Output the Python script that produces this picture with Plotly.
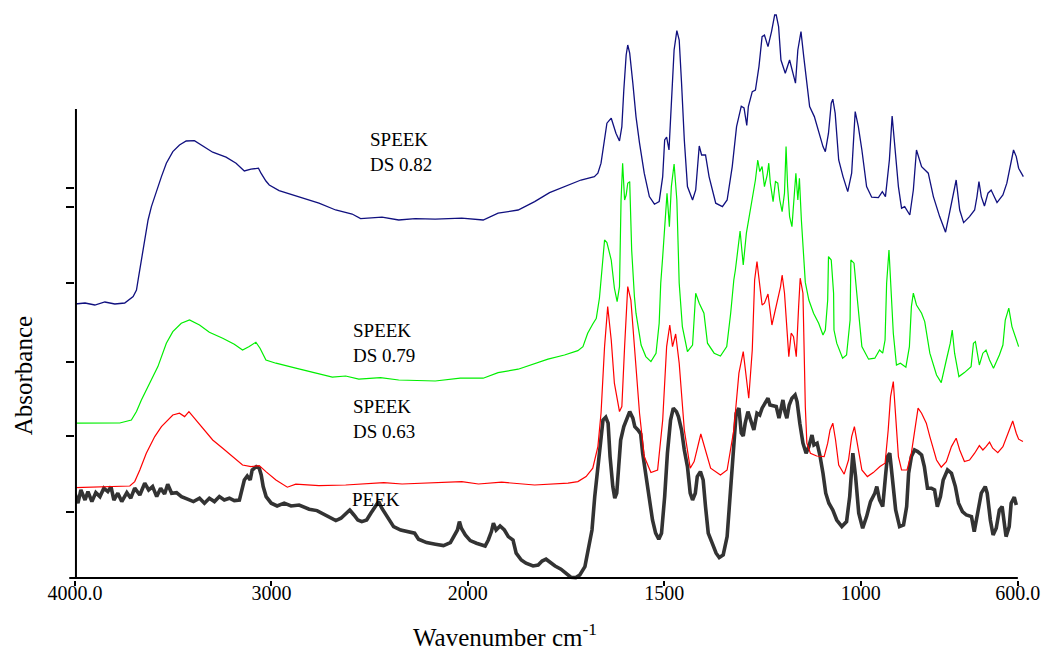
import plotly.graph_objects as go

# ---------------- data (wavenumber cm-1, absorbance a.u.) ----------------
peek = [(4000,0.424),(3985,0.374),(3970,0.44),(3949,0.39),(3934,0.432),(3914,0.382),(3894,0.427),(3873,0.407),
(3853,0.449),(3833,0.432),(3817,0.457),(3802,0.39),(3782,0.424),(3762,0.382),(3736,0.427),(3716,0.399),(3696,0.449),
(3670,0.415),(3645,0.474),(3625,0.44),(3605,0.457),(3584,0.407),(3564,0.449),(3544,0.42),(3528,0.469),(3508,0.424),
(3483,0.427),(3458,0.407),(3427,0.394),(3397,0.382),(3366,0.399),(3341,0.374),(3316,0.399),(3290,0.382),(3265,0.407),
(3240,0.39),(3214,0.399),(3189,0.387),(3163,0.39),(3153,0.432),(3138,0.49),(3123,0.51),(3108,0.49),(3098,0.54),
(3077,0.557),(3062,0.549),(3052,0.515),(3042,0.457),(3027,0.407),(3001,0.374),(2971,0.36),(2935,0.374),(2900,0.36),
(2859,0.365),(2834,0.354),(2808,0.344),(2768,0.337),(2727,0.315),(2697,0.299),(2672,0.287),(2646,0.299),(2621,0.324),
(2601,0.34),(2580,0.315),(2560,0.29),(2540,0.282),(2515,0.29),(2494,0.324),(2474,0.357),(2454,0.382),(2438,0.349),
(2423,0.324),(2403,0.29),(2378,0.257),(2342,0.24),(2302,0.232),(2271,0.224),(2251,0.194),(2210,0.177),(2165,0.169),
(2124,0.162),(2089,0.177),(2073,0.207),(2053,0.24),(2043,0.282),(2033,0.249),(2013,0.215),(1994,0.187),(1978,0.174),
(1966,0.165),(1956,0.16),(1948,0.19),(1940,0.232),(1935,0.274),(1928,0.24),(1918,0.26),(1907,0.24),(1897,0.207),
(1885,0.19),(1877,0.124),(1864,0.09),(1852,0.074),(1834,0.06),(1821,0.065),(1811,0.085),(1801,0.094),(1791,0.077),
(1778,0.06),(1763,0.044),(1750,0.024),(1738,0.004),(1725,0.002),(1715,0.015),(1702,0.057),(1695,0.124),(1684,0.24),
(1677,0.407),(1669,0.557),(1662,0.69),(1656,0.79),(1649,0.804),(1643,0.774),(1638,0.607),(1631,0.457),(1626,0.399),
(1621,0.424),(1616,0.557),(1611,0.69),(1603,0.757),(1596,0.79),(1588,0.832),(1580,0.799),(1575,0.757),(1567,0.74),
(1560,0.72),(1555,0.624),(1547,0.507),(1540,0.407),(1530,0.29),(1522,0.224),(1514,0.194),(1507,0.224),(1499,0.407),
(1492,0.624),(1484,0.79),(1477,0.849),(1469,0.832),(1464,0.807),(1456,0.74),(1449,0.64),(1441,0.557),(1434,0.424),
(1428,0.39),(1421,0.424),(1416,0.507),(1408,0.532),(1401,0.49),(1395,0.357),(1388,0.224),(1378,0.174),(1368,0.124),
(1360,0.102),(1350,0.115),(1340,0.207),(1332,0.407),(1325,0.624),(1317,0.824),(1310,0.849),(1304,0.724),(1299,0.71),
(1294,0.774),(1287,0.832),(1279,0.774),(1272,0.74),(1264,0.824),(1257,0.815),(1251,0.849),(1243,0.874),(1236,0.899),
(1231,0.865),(1223,0.862),(1215,0.857),(1208,0.799),(1203,0.84),(1198,0.89),(1193,0.832),(1188,0.799),(1182,0.865),
(1175,0.899),(1167,0.915),(1162,0.882),(1155,0.774),(1147,0.674),(1139,0.624),(1132,0.657),(1124,0.715),(1119,0.665),
(1111,0.674),(1104,0.615),(1096,0.524),(1089,0.424),(1081,0.374),(1071,0.34),(1061,0.29),(1048,0.257),(1036,0.282),
(1028,0.407),(1020,0.624),(1013,0.507),(1005,0.324),(995,0.249),(985,0.307),(975,0.382),(964,0.424),(959,0.457),
(952,0.39),(944,0.357),(937,0.507),(932,0.607),(926,0.624),(919,0.49),(911,0.34),(901,0.257),(891,0.265),(883,0.357),
(878,0.524),(871,0.607),(863,0.64),(855,0.632),(845,0.615),(838,0.557),(830,0.449),(820,0.449),(812,0.44),(805,0.357),
(797,0.407),(790,0.49),(779,0.54),(769,0.524),(759,0.457),(751,0.374),(741,0.332),(731,0.315),(718,0.307),(711,0.232),
(703,0.324),(693,0.424),(683,0.457),(678,0.424),(670,0.29),(663,0.215),(655,0.249),(647,0.34),(640,0.357),(635,0.29),
(630,0.207),(622,0.257),(617,0.374),(609,0.404),(604,0.365)]

speek_063 = [(4000,0.452),(3873,0.455),(3721,0.46),(3696,0.482),(3670,0.54),(3637,0.624),(3594,0.707),(3560,0.757),
(3527,0.79),(3502,0.815),(3468,0.824),(3442,0.807),(3420,0.832),(3392,0.799),(3349,0.749),(3299,0.69),(3248,0.649),
(3197,0.607),(3147,0.565),(3104,0.557),(3062,0.562),(3028,0.532),(2977,0.49),(2919,0.454),(2876,0.469),(2758,0.462),
(2622,0.465),(2428,0.477),(2335,0.47),(2031,0.482),(1973,0.47),(1914,0.479),(1830,0.465),(1745,0.474),(1720,0.482),
(1699,0.507),(1682,0.549),(1669,0.657),(1661,0.824),(1652,1.157),(1644,1.357),(1635,1.19),(1627,0.974),(1614,0.832),
(1608,0.857),(1601,1.157),(1593,1.457),(1585,1.39),(1576,1.157),(1563,0.824),(1551,0.607),(1534,0.527),(1517,0.54),
(1504,0.79),(1494,1.157),(1486,1.265),(1479,1.157),(1471,1.22),(1462,1.074),(1449,0.74),(1434,0.549),(1424,0.582),
(1407,0.72),(1395,0.64),(1382,0.549),(1357,0.515),(1340,0.54),(1323,0.74),(1310,1.024),(1299,1.132),(1291,1.007),
(1285,0.899),(1276,1.14),(1270,1.49),(1264,1.582),(1258,1.474),(1251,1.365),(1245,1.374),(1236,1.42),(1226,1.265),
(1213,1.374),(1204,1.457),(1200,1.515),(1194,1.425),(1183,1.107),(1177,1.224),(1171,1.207),(1164,1.107),(1158,1.357),
(1154,1.499),(1147,1.424),(1145,1.157),(1141,0.857),(1137,0.674),(1128,0.624),(1112,0.61),(1093,0.607),(1084,0.674),
(1078,0.74),(1071,0.774),(1064,0.69),(1056,0.565),(1042,0.519),(1031,0.59),(1023,0.707),(1016,0.757),(1008,0.657),
(997,0.54),(983,0.507),(968,0.527),(951,0.557),(938,0.574),(930,0.74),(924,0.907),(917,0.982),(911,0.824),(904,0.607),
(896,0.54),(882,0.54),(871,0.624),(862,0.757),(854,0.849),(845,0.824),(833,0.774),(824,0.707),(807,0.59),(795,0.554),
(782,0.582),(769,0.657),(757,0.699),(748,0.64),(736,0.582),(723,0.59),(710,0.624),(698,0.662),(689,0.64),(681,0.657),
(672,0.679),(664,0.649),(651,0.627),(638,0.657),(626,0.715),(613,0.785),(604,0.724),(598,0.694),(587,0.682)]

speek_079 = [(4000,0.774),(3873,0.775),(3772,0.775),(3713,0.79),(3687,0.832),(3662,0.89),(3620,0.974),(3578,1.057),
(3535,1.174),(3502,1.232),(3459,1.274),(3417,1.29),(3366,1.265),(3316,1.229),(3248,1.199),(3189,1.169),(3147,1.14),
(3113,1.157),(3079,1.179),(3058,1.149),(3028,1.09),(2977,1.074),(2876,1.049),(2775,1.024),(2690,1.004),(2622,1.01),
(2555,0.994),(2445,1.002),(2352,0.99),(2166,0.985),(2039,0.999),(1961,0.999),(1923,1.027),(1872,1.044),(1830,1.07),
(1796,1.094),(1754,1.115),(1720,1.137),(1707,1.157),(1695,1.224),(1682,1.27),(1673,1.299),(1665,1.40),(1652,1.69),
(1646,1.677),(1635,1.59),(1627,1.45),(1620,1.382),(1614,1.457),(1610,1.89),(1606,2.074),(1601,1.89),(1597,1.915),
(1593,1.974),(1588,1.982),(1583,1.64),(1576,1.407),(1572,1.324),(1559,1.165),(1547,1.107),(1534,1.082),(1521,1.124),
(1513,1.274),(1509,1.474),(1504,1.607),(1493,1.924),(1487,1.757),(1482,1.957),(1475,2.07),(1468,1.89),(1462,1.474),
(1454,1.257),(1441,1.132),(1428,1.165),(1420,1.424),(1411,1.374),(1399,1.324),(1390,1.174),(1373,1.124),(1357,1.11),
(1341,1.157),(1331,1.324),(1323,1.49),(1319,1.54),(1307,1.735),(1299,1.565),(1291,1.724),(1282,1.83),(1272,1.94),
(1268,1.99),(1262,2.09),(1257,2.032),(1251,2.057),(1245,1.957),(1238,2.015),(1234,2.074),(1230,1.974),(1223,1.882),
(1217,1.982),(1211,1.974),(1206,1.89),(1200,1.832),(1194,1.924),(1190,2.157),(1186,1.957),(1181,1.807),(1175,1.757),
(1169,1.924),(1165,2.024),(1160,1.89),(1156,1.999),(1151,1.79),(1145,1.59),(1141,1.478),(1132,1.39),(1120,1.324),
(1107,1.274),(1096,1.215),(1090,1.24),(1084,1.39),(1082,1.607),(1075,1.59),(1069,1.424),(1068,1.24),(1061,1.174),
(1046,1.099),(1036,1.115),(1027,1.29),(1025,1.59),(1017,1.574),(1010,1.424),(997,1.157),(980,1.094),(964,1.099),
(952,1.14),(944,1.124),(938,1.19),(934,1.474),(928,1.64),(924,1.474),(917,1.224),(909,1.065),(899,1.074),(885,1.054),
(876,1.157),(871,1.357),(866,1.424),(858,1.365),(845,1.324),(837,1.282),(824,1.124),(807,1.015),(795,0.977),(782,1.09),
(772,1.174),(767,1.24),(761,1.124),(750,1.007),(736,1.027),(719,1.057),(713,1.174),(708,1.182),(698,1.065),(689,1.124),
(681,1.14),(672,1.09),(662,1.049),(647,1.115),(638,1.165),(632,1.29),(623,1.349),(615,1.257),(598,1.157)]

speek_082 = [(4000,1.370),(3949,1.375),(3899,1.365),(3848,1.38),(3797,1.37),(3747,1.375),(3704,1.407),(3687,1.44),
(3676,1.507),(3662,1.59),(3654,1.657),(3628,1.79),(3611,1.857),(3578,1.957),(3560,2.007),(3535,2.074),(3502,2.132),
(3468,2.165),(3434,2.185),(3392,2.187),(3350,2.16),(3299,2.129),(3231,2.104),(3180,2.074),(3138,2.035),(3104,2.044),
(3066,2.049),(3053,2.024),(3028,1.985),(3011,1.965),(2961,1.937),(2876,1.91),(2758,1.874),(2673,1.84),(2622,1.83),
(2589,1.82),(2546,1.797),(2437,1.804),(2352,1.79),(2268,1.797),(2166,1.794),(2031,1.799),(1961,1.79),(1923,1.824),
(1872,1.84),(1830,1.882),(1792,1.927),(1745,1.965),(1712,1.99),(1678,2.007),(1669,2.024),(1661,2.074),(1652,2.19),
(1646,2.274),(1635,2.299),(1623,2.224),(1614,2.185),(1608,2.257),(1603,2.44),(1597,2.615),(1593,2.665),(1588,2.624),
(1580,2.474),(1572,2.307),(1563,2.174),(1551,2.024),(1538,1.907),(1525,1.869),(1513,1.882),(1504,2.007),(1499,2.19),
(1494,2.204),(1488,2.14),(1482,2.39),(1475,2.64),(1468,2.737),(1462,2.69),(1456,2.474),(1449,2.19),(1441,1.957),
(1428,1.89),(1420,1.94),(1411,2.16),(1405,2.115),(1395,2.115),(1386,2.007),(1369,1.874),(1352,1.857),(1340,1.89),
(1327,2.057),(1316,2.257),(1304,2.359),(1297,2.35),(1290,2.263),(1286,2.357),(1276,2.432),(1268,2.44),(1259,2.557),
(1251,2.707),(1245,2.715),(1236,2.657),(1227,2.732),(1219,2.815),(1215,2.815),(1209,2.757),(1203,2.59),(1192,2.524),
(1181,2.59),(1175,2.54),(1166,2.474),(1160,2.64),(1152,2.732),(1145,2.607),(1137,2.457),(1130,2.357),(1118,2.307),
(1105,2.224),(1096,2.157),(1090,2.132),(1082,2.224),(1075,2.374),(1071,2.394),(1065,2.324),(1056,2.09),(1045,2.007),
(1033,1.932),(1023,2.024),(1014,2.332),(1006,2.257),(997,2.14),(985,1.957),(972,1.904),(955,1.902),(945,1.932),
(937,1.907),(927,2.09),(920,2.31),(913,2.14),(904,1.957),(896,1.849),(888,1.857),(875,1.815),(866,1.94),(858,2.14),
(845,2.057),(828,2.024),(815,1.907),(799,1.807),(784,1.729),(774,1.824),(763,1.924),(757,1.99),(748,1.84),(738,1.777),
(723,1.807),(710,1.84),(704,1.907),(699,1.982),(693,1.907),(685,1.86),(676,1.924),(668,1.94),(653,1.877),(638,1.915),
(628,1.974),(620,2.057),(611,2.14),(604,2.107),(598,2.049),(586,2.007)]

x_tick_values = [4000, 3000, 2000, 1500, 1000, 600]
x_tick_labels = ["4000.0", "3000", "2000", "1500", "1000", "600.0"]
y_tick_values = [1.9485, 1.8565, 1.4735, 1.0815, 0.71, 0.3285]

labels = [("SPEEK<br>DS 0.82", 2508, 2.13), ("SPEEK<br>DS 0.79", 2597, 1.1775),
          ("SPEEK<br>DS 0.63", 2597, 0.794), ("PEEK", 2602, 0.3935)]

# ---------------- axis transform: scale doubles below 2000 cm-1 ----------------
def warp(wn):
    return 4000 - wn if wn >= 2000 else 2000 + 2 * (2000 - wn)

X_MAX = 4867.0
Y_MIN, Y_MAX = -0.01, 2.865
Y_AXIS_TOP = 2.345
FONT = "Liberation Serif"

fig = go.Figure()
series = [(peek, "PEEK", "#333333", 3.6), (speek_063, "SPEEK DS 0.63", "#ff0000", 1.2),
          (speek_079, "SPEEK DS 0.79", "#00ee00", 1.2), (speek_082, "SPEEK DS 0.82", "#10107f", 1.3)]
for data, name, color, width in series:
    fig.add_trace(go.Scatter(x=[warp(w) for w, a in data], y=[a for w, a in data], mode="lines",
                             name=name, line=dict(color=color, width=width), hoverinfo="skip"))

for text, wn, a in labels:
    fig.add_annotation(x=warp(wn), y=a, xref="x", yref="y", text=text, showarrow=False,
                       xanchor="left", yanchor="middle", align="left",
                       font=dict(family=FONT, size=19, color="black"))

# axis titles
fig.add_annotation(x=-0.054, y=0.355, xref="paper", yref="paper", text="Absorbance", textangle=-90,
                   showarrow=False, xanchor="center", yanchor="middle",
                   font=dict(family=FONT, size=25, color="black"))
fig.add_annotation(x=0.45, y=-0.096, xref="paper", yref="paper", text="Wavenumber cm<sup>-1</sup>",
                   showarrow=False, xanchor="center", yanchor="middle",
                   font=dict(family=FONT, size=25, color="black"))

def py(a):
    return (a - Y_MIN) / (Y_MAX - Y_MIN)

# axis lines
fig.add_shape(type="line", xref="paper", yref="paper", x0=-0.006, x1=warp(600) / X_MAX,
              y0=py(0), y1=py(0), line=dict(color="black", width=2))
fig.add_shape(type="line", xref="paper", yref="paper", x0=0.001, x1=0.001,
              y0=py(0), y1=py(Y_AXIS_TOP), line=dict(color="black", width=2))

fig.update_layout(
    width=1045, height=652, showlegend=False,
    margin=dict(l=75, r=10, t=5, b=72),
    paper_bgcolor="white", plot_bgcolor="white",
    xaxis=dict(range=[0, X_MAX], tickmode="array", tickvals=[warp(v) for v in x_tick_values],
               ticktext=x_tick_labels, ticks="outside", ticklen=5, tickwidth=1.5, tickcolor="black",
               ticklabelstandoff=-10,
               showgrid=False, zeroline=False, showline=False,
               tickfont=dict(family=FONT, size=20, color="black")),
    yaxis=dict(range=[Y_MIN, Y_MAX], tickmode="array", tickvals=y_tick_values, showticklabels=False,
               ticks="outside", ticklen=8, tickwidth=1.5, tickcolor="black",
               showgrid=False, zeroline=False, showline=False),
)

fig.write_html("out.html")
